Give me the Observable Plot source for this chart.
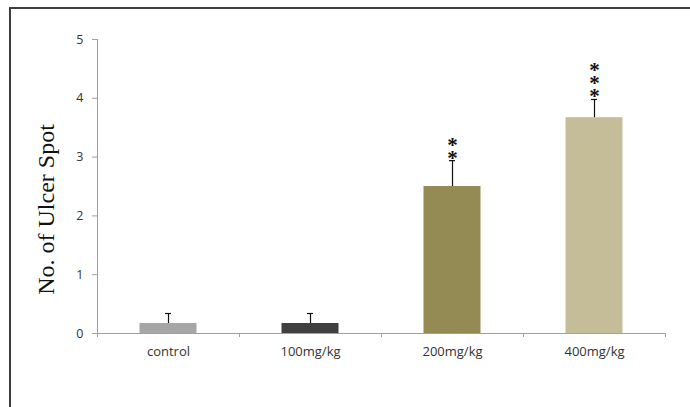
<!DOCTYPE html>
<html><head><meta charset="utf-8">
<script src="https://cdn.jsdelivr.net/npm/d3@7"></script>
<script src="https://cdn.jsdelivr.net/npm/@observablehq/plot@0.6"></script>
<style>
html,body{margin:0;padding:0;background:#fff;overflow:hidden;width:690px;height:407px}
#wrap{position:relative;width:690px;height:407px;overflow:hidden}
#border{position:absolute;left:9px;top:7px;width:720px;height:440px;border:2px solid #3c3c3c;box-sizing:border-box}
#chart{position:absolute;left:0;top:0}
</style></head><body>
<div id="wrap"><div id="border"></div><div id="chart"></div></div>
<script>
const categories = ["control", "100mg/kg", "200mg/kg", "400mg/kg"];
const means = [0.17, 0.17, 2.5, 3.67];
const errors = [0.17, 0.17, 0.44, 0.31];
const stars = ["", "", "*\n*", "*\n*\n*"];
const colors = ["#a6a6a6", "#404040", "#948a54", "#c4bd97"];
const yTicks = [0, 1, 2, 3, 4, 5];
const yLabel = "No. of Ulcer Spot";

const data = categories.map((c, i) => ({cat: c, i, mean: means[i], err: errors[i], top: means[i] + errors[i], star: stars[i]}));
const center = d => d.i + 0.5;

const chart = Plot.plot({
  width: 690, height: 407,
  marginLeft: 97, marginRight: 25, marginTop: 39, marginBottom: 74,
  style: {background: "transparent", fontFamily: "Open Sans", color: "#404040"},
  x: {domain: [0, categories.length], axis: null},
  y: {domain: [0, 5], axis: null},
  color: {domain: categories, range: colors},
  marks: [
    Plot.rectY(data, {x1: "i", x2: d => d.i + 1, y: "mean", fill: "cat", insetLeft: 42.5, insetRight: 42.5}),
    Plot.ruleX(data, {x: center, y1: "mean", y2: "top", stroke: "#111", strokeWidth: 1.2}),
    Plot.ruleY(data, {x1: center, x2: center, y: "top", stroke: "#111", strokeWidth: 1.2, insetLeft: -3, insetRight: -3}),
    Plot.text(data, {x: center, y: "top", text: "star", lineAnchor: "bottom", lineHeight: 0.62, fontSize: 21, fontWeight: "bold", fontFamily: "Liberation Serif", fill: "#111", dy: 4}),
    Plot.ruleX([0], {stroke: "#a0a0a0"}),
    Plot.ruleY([0], {stroke: "#a0a0a0"}),
    Plot.axisY({ticks: yTicks, tickSize: 5, tickPadding: 9, tickFormat: d3.format("d"), stroke: "#a0a0a0", fontSize: 12.5, fill: "#333", label: null}),
    Plot.axisX({ticks: [0, 1, 2, 3, 4], tickSize: 4, tickFormat: () => "", stroke: "#a0a0a0", label: null}),
    Plot.axisX({ticks: categories.map((c, i) => i + 0.5), tickSize: 0, tickPadding: 13, tickFormat: v => categories[Math.floor(v)], fontSize: 13, fill: "#333", label: null}),
    Plot.text([yLabel], {text: d => d, frameAnchor: "left", textAnchor: "middle", rotate: -90, dx: -51, dy: 23, fontSize: 24, fontFamily: "Liberation Serif", fill: "#111"})
  ]
});
document.getElementById("chart").appendChild(chart);
</script>
</body></html>
